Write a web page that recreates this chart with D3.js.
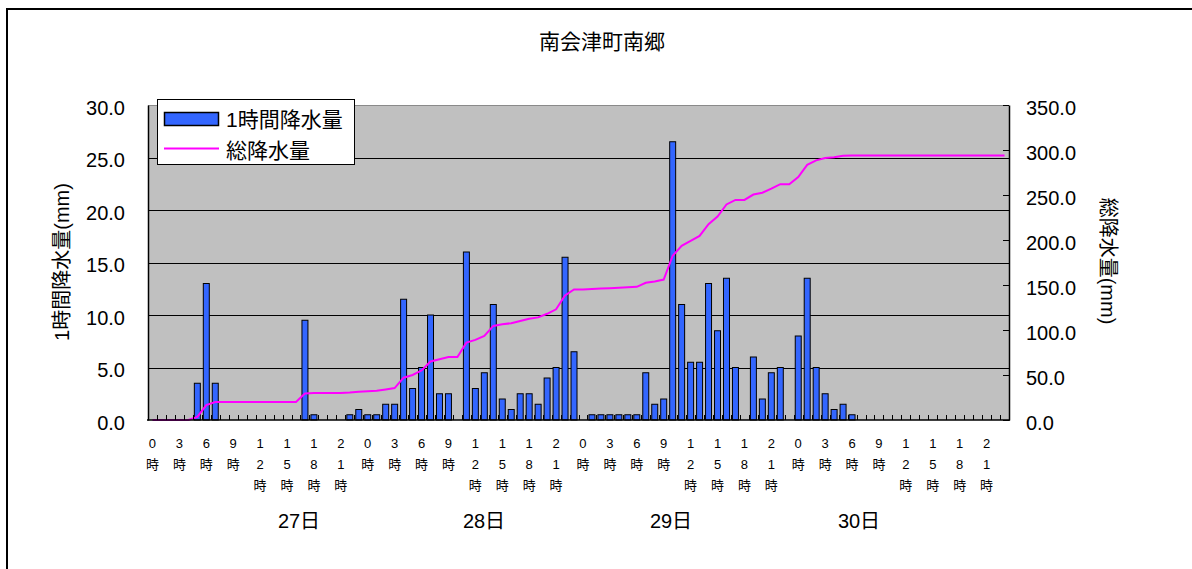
<!DOCTYPE html>
<html>
<head>
<meta charset="utf-8">
<script src="https://cdn.jsdelivr.net/npm/d3@7"></script>
<style>
  html, body { margin: 0; padding: 0; background: #fff; }
  svg { display: block; }
  text { font-family: "Liberation Sans", "Noto Sans CJK JP", sans-serif; fill: #000; }
</style>
</head>
<body>
<svg id="chart" width="1192" height="569"></svg>
<script>
// ---- data ----
const title = "南会津町南郷";
const days = ["27日", "28日", "29日", "30日"];
const hourTickLabels = ["0時", "3時", "6時", "9時", "12時", "15時", "18時", "21時"];
const seriesNames = ["1時間降水量", "総降水量"];
const leftTicks = [0, 5, 10, 15, 20, 25, 30];
const rightTicks = [0, 50, 100, 150, 200, 250, 300, 350];

// hourly precipitation (mm), 96 hours (27日 0時 .. 30日 23時)
const hourly = [
  0, 0, 0, 0, 0, 3.5, 13.0, 3.5, 0, 0, 0, 0, 0, 0, 0, 0, 0, 9.5, 0.5, 0, 0, 0, 0.5, 1.0,
  0.5, 0.5, 1.5, 1.5, 11.5, 3.0, 5.0, 10.0, 2.5, 2.5, 0, 16.0, 3.0, 4.5, 11.0, 2.0, 1.0, 2.5, 2.5, 1.5, 4.0, 5.0, 15.5, 6.5,
  0, 0.5, 0.5, 0.5, 0.5, 0.5, 0.5, 4.5, 1.5, 2.0, 26.5, 11.0, 5.5, 5.5, 13.0, 8.5, 13.5, 5.0, 0, 6.0, 2.0, 4.5, 5.0, 0,
  8.0, 13.5, 5.0, 2.5, 1.0, 1.5, 0.5, 0, 0, 0, 0, 0, 0, 0, 0, 0, 0, 0, 0, 0, 0, 0, 0, 0
];
// total precipitation (mm), 96 hours
const total = [
  0, 0, 0, 0, 0, 3.5, 16.5, 20, 20, 20, 20, 20, 20, 20, 20, 20, 20, 29.5, 30, 30, 30, 30, 30.5, 31.5,
  32, 32.5, 34, 35.5, 47, 50, 55, 65, 67.5, 70, 70, 86, 89, 93.5, 104.5, 106.5, 107.5, 110, 112.5, 114, 118, 123, 138.5, 145,
  145, 145.5, 146, 146.5, 147, 147.5, 148, 152.5, 154, 156, 182.5, 193.5, 199, 204.5, 217.5, 226, 239.5, 244.5, 244.5, 250.5, 252.5, 257, 262, 262,
  270, 283.5, 288.5, 291, 292, 293.5, 294, 294, 294, 294, 294, 294, 294, 294, 294, 294, 294, 294, 294, 294, 294, 294, 294, 294
];

// categories: day x hour
const categories = [];
days.forEach((d, di) => { for (let h = 0; h < 24; h++) categories.push({ day: di, hour: h }); });

// ---- layout ----
const plot = { left: 148, right: 1009, top: 105, bottom: 420 };
const dayLabelX = [299, 484, 671, 859];
const FONT = '"Liberation Sans", "Noto Sans CJK JP", sans-serif';

const svg = d3.select("#chart");

// outer frame
svg.append("rect")
  .attr("x", 7).attr("y", 9).attr("width", 1300).attr("height", 700)
  .attr("fill", "#fff").attr("stroke", "#000").attr("stroke-width", 2);

const x = d3.scaleBand().domain(d3.range(categories.length)).range([plot.left, plot.right]).padding(0);
const yL = d3.scaleLinear().domain([0, 30]).range([plot.bottom, plot.top]);
const yR = d3.scaleLinear().domain([0, 350]).range([plot.bottom, plot.top]);

// plot background
svg.append("rect")
  .attr("x", plot.left).attr("y", plot.top)
  .attr("width", plot.right - plot.left).attr("height", plot.bottom - plot.top)
  .attr("fill", "#C0C0C0");

// top border (grey)
svg.append("line")
  .attr("x1", plot.left).attr("x2", plot.right)
  .attr("y1", plot.top + 0.5).attr("y2", plot.top + 0.5)
  .attr("stroke", "#8a8a8a").attr("stroke-width", 1);

// gridlines
svg.append("g").selectAll("line")
  .data(leftTicks.filter(t => t > 0 && t < 30))
  .join("line")
  .attr("x1", plot.left).attr("x2", plot.right)
  .attr("y1", d => Math.round(yL(d)) + 0.5).attr("y2", d => Math.round(yL(d)) + 0.5)
  .attr("stroke", "#000").attr("stroke-width", 1);

// bars
const barW = x.bandwidth() * 0.667;
svg.append("g").selectAll("rect")
  .data(hourly.map((v, i) => ({ v, i })).filter(d => d.v > 0))
  .join("rect")
  .attr("x", d => x(d.i) + (x.bandwidth() - barW) / 2)
  .attr("y", d => yL(d.v))
  .attr("width", barW)
  .attr("height", d => yL(0) - yL(d.v))
  .attr("fill", "#3366FF")
  .attr("stroke", "#000").attr("stroke-width", 1);

// cumulative line
const line = d3.line()
  .x((d, i) => x(i) + x.bandwidth() / 2)
  .y(d => yR(d));
svg.append("path")
  .datum(total)
  .attr("d", line)
  .attr("fill", "none")
  .attr("stroke", "#FF00FF")
  .attr("stroke-width", 2);

// left axis
const gL = svg.append("g").attr("transform", `translate(${plot.left},0)`)
  .call(d3.axisLeft(yL).tickValues(leftTicks).tickFormat(d3.format(".1f")).tickSize(0).tickPadding(23));
gL.select(".domain").attr("stroke", "#000").attr("stroke-width", 1.5);
gL.selectAll("text").attr("font-family", FONT).attr("font-size", 20).attr("dy", "0.45em");

// right axis
const gR = svg.append("g").attr("transform", `translate(${plot.right},0)`)
  .call(d3.axisRight(yR).tickValues(rightTicks).tickFormat(d3.format(".1f")).tickSizeInner(-6).tickSizeOuter(0).tickPadding(17));
gR.select(".domain").attr("stroke", "#000").attr("stroke-width", 1.5);
gR.selectAll(".tick line").attr("stroke", "#000");
gR.selectAll("text").attr("font-family", FONT).attr("font-size", 20).attr("dy", "0.45em");

// bottom axis: ticks at category boundaries pointing up
svg.append("line")
  .attr("x1", plot.left - 1).attr("x2", plot.right + 1)
  .attr("y1", plot.bottom).attr("y2", plot.bottom)
  .attr("stroke", "#000").attr("stroke-width", 1.5);
svg.append("g").selectAll("line")
  .data(d3.range(1, categories.length))
  .join("line")
  .attr("x1", d => Math.round(x(d)) + 0.5).attr("x2", d => Math.round(x(d)) + 0.5)
  .attr("y1", plot.bottom).attr("y2", plot.bottom - 5)
  .attr("stroke", "#000").attr("stroke-width", 1);

// hour labels (every 3 hours), characters stacked vertically
const hourLabelData = categories.map((c, i) => ({ c, i })).filter(d => d.c.hour % 3 === 0);
const hl = svg.append("g").selectAll("text")
  .data(hourLabelData)
  .join("text")
  .attr("x", d => x(d.i) + x.bandwidth() / 2)
  .attr("y", 443)
  .attr("text-anchor", "middle")
  .attr("font-family", FONT)
  .attr("font-size", 13);
hl.each(function (d) {
  const label = hourTickLabels[d.c.hour / 3];
  const chars = Array.from(label);
  const t = d3.select(this);
  chars.forEach((ch, k) => {
    t.append("tspan")
      .attr("x", x(d.i) + x.bandwidth() / 2)
      .attr("y", 443 + k * 21)
      .attr("dominant-baseline", "central")
      .text(ch);
  });
});

// day labels
svg.append("g").selectAll("text")
  .data(days)
  .join("text")
  .attr("x", (d, i) => dayLabelX[i])
  .attr("y", 521)
  .attr("text-anchor", "middle")
  .attr("dominant-baseline", "central")
  .attr("font-family", FONT)
  .attr("font-size", 20)
  .text(d => d);

// axis titles
svg.append("text")
  .attr("transform", "translate(62,262) rotate(-90)")
  .attr("text-anchor", "middle").attr("dominant-baseline", "central")
  .attr("font-family", FONT).attr("font-size", 20)
  .text("1時間降水量(mm)");
svg.append("text")
  .attr("transform", "translate(1108,261) rotate(90)")
  .attr("text-anchor", "middle").attr("dominant-baseline", "central")
  .attr("font-family", FONT).attr("font-size", 20)
  .text("総降水量(mm)");

// title
svg.append("text")
  .attr("x", 602).attr("y", 41)
  .attr("text-anchor", "middle").attr("dominant-baseline", "central")
  .attr("font-family", FONT).attr("font-size", 21)
  .text(title);

// legend
const lg = svg.append("g");
lg.append("rect").attr("x", 157.5).attr("y", 99.5).attr("width", 197).attr("height", 65)
  .attr("fill", "#fff").attr("stroke", "#000").attr("stroke-width", 1);
lg.append("rect").attr("x", 164.5).attr("y", 112.5).attr("width", 54).attr("height", 13)
  .attr("fill", "#3366FF").attr("stroke", "#000").attr("stroke-width", 1.5);
lg.append("line").attr("x1", 164).attr("x2", 219).attr("y1", 148.5).attr("y2", 148.5)
  .attr("stroke", "#FF00FF").attr("stroke-width", 2);
lg.selectAll("text.lt")
  .data(seriesNames)
  .join("text")
  .attr("class", "lt")
  .attr("x", 226)
  .attr("y", (d, i) => i === 0 ? 119 : 150)
  .attr("dominant-baseline", "central")
  .attr("font-family", FONT).attr("font-size", 21)
  .text(d => d);
</script>
</body>
</html>
